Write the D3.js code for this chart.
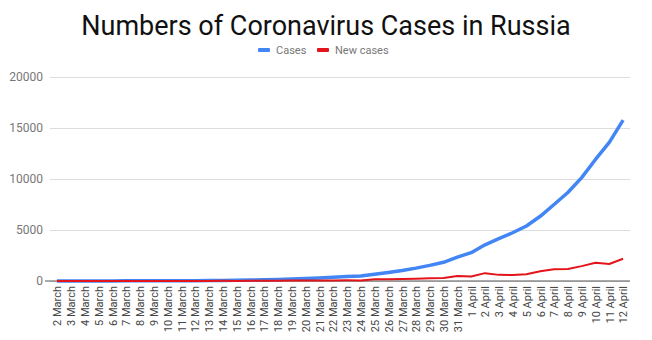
<!DOCTYPE html>
<html>
<head>
<meta charset="utf-8">
<script src="https://cdn.jsdelivr.net/npm/d3@7"></script>
<style>
  body { margin: 0; background: #fff; }
  svg { font-family: Roboto, "Noto Sans", sans-serif; }
</style>
</head>
<body>
<div class="board"></div>
<script>
/*
=================================
DATA
=================================
*/
var days = [
  '2 March', '3 March', '4 March', '5 March', '6 March', '7 March', '8 March',
  '9 March', '10 March', '11 March', '12 March', '13 March', '14 March', '15 March',
  '16 March', '17 March', '18 March', '19 March', '20 March', '21 March', '22 March',
  '23 March', '24 March', '25 March', '26 March', '27 March', '28 March', '29 March',
  '30 March', '31 March', '1 April', '2 April', '3 April', '4 April', '5 April',
  '6 April', '7 April', '8 April', '9 April', '10 April', '11 April', '12 April'
];

var cases = [
  3, 3, 3, 4, 10, 14, 17, 17, 20, 28, 34, 45, 59, 63, 93, 114, 147, 199, 253, 306,
  367, 438, 495, 658, 840, 1036, 1264, 1534, 1836, 2337, 2777, 3548, 4149, 4731,
  5389, 6343, 7497, 8672, 10131, 11917, 13584, 15770
];

var newCases = [
  1, 0, 0, 1, 6, 4, 3, 0, 3, 8, 6, 11, 14, 4, 30, 21, 33, 52, 54, 53, 61, 71, 57,
  163, 182, 196, 228, 270, 302, 501, 440, 771, 601, 582, 658, 954, 1154, 1175,
  1459, 1786, 1667, 2186
];

var yTicks = [0, 5000, 10000, 15000, 20000];

/*
=================================
CONTAINER
=================================
*/
var width = 652, height = 340;
var plotLeft = 50, plotRight = 630, plotTop = 77, plotBottom = 281;

var svg = d3.select('.board').append('svg')
  .attr('width', width)
  .attr('height', height);

svg.append('rect').attr('width', width).attr('height', height).attr('fill', '#fff');

// scales
var x = d3.scalePoint().domain(days).range([plotLeft, plotRight]).padding(0.5);
var y = d3.scaleLinear().domain([0, 20000]).range([plotBottom, plotTop]);

// title
svg.append('text')
  .attr('x', 326).attr('y', 35)
  .attr('text-anchor', 'middle')
  .attr('font-size', 27)
  .attr('fill', '#111')
  .text('Numbers of Coronavirus Cases in Russia');

// legend
var legend = [
  { name: 'Cases', color: '#4285f4', x: 258 },
  { name: 'New cases', color: '#e3141b', x: 317 }
];
var lg = svg.append('g').selectAll('g').data(legend).enter().append('g');
lg.append('rect')
  .attr('x', d => d.x).attr('y', 48)
  .attr('width', 12).attr('height', 4).attr('rx', 1)
  .attr('fill', d => d.color);
lg.append('text')
  .attr('x', d => d.x + 18).attr('y', 54)
  .attr('font-size', 11)
  .attr('fill', '#777')
  .text(d => d.name);

// y grid + labels
var yAxis = svg.append('g')
  .attr('transform', 'translate(' + plotLeft + ',0)')
  .call(d3.axisLeft(y).tickValues(yTicks).tickSize(-(plotRight - plotLeft)).tickFormat(d3.format('d')));
yAxis.select('.domain').remove();
yAxis.selectAll('.tick line').attr('stroke', '#ddd');
yAxis.selectAll('.tick text')
  .attr('x', -7)
  .attr('font-size', 12)
  .attr('font-family', 'Roboto, sans-serif')
  .attr('fill', '#777');

// baseline
svg.append('line')
  .attr('x1', plotLeft - 5).attr('x2', plotRight)
  .attr('y1', y(0)).attr('y2', y(0))
  .attr('stroke', '#555').attr('stroke-width', 1);

// x axis labels
var xAxis = svg.append('g')
  .attr('transform', 'translate(0,' + plotBottom + ')')
  .call(d3.axisBottom(x).tickSize(0));
xAxis.select('.domain').remove();
xAxis.selectAll('.tick text')
  .attr('transform', 'rotate(-90)')
  .attr('x', -5).attr('y', 0).attr('dy', '0.35em')
  .attr('text-anchor', 'end')
  .attr('font-size', 11)
  .attr('font-family', 'Roboto, sans-serif')
  .attr('fill', '#444');

// lines
var lineGen = d3.line()
  .x((d, i) => x(days[i]))
  .y(d => y(d));

svg.append('path')
  .datum(cases)
  .attr('d', lineGen)
  .attr('fill', 'none')
  .attr('stroke', '#4285f4')
  .attr('stroke-width', 3.5)
  .attr('stroke-linejoin', 'round');

svg.append('path')
  .datum(newCases)
  .attr('d', lineGen)
  .attr('fill', 'none')
  .attr('stroke', '#e3141b')
  .attr('stroke-width', 2)
  .attr('stroke-linejoin', 'round');
</script>
</body>
</html>
